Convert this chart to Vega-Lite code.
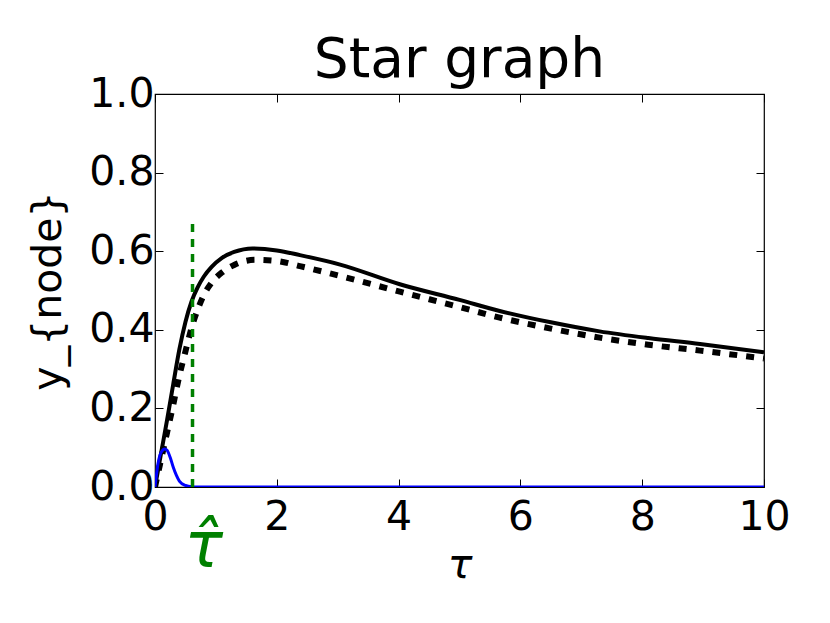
{
  "$schema": "https://vega.github.io/schema/vega-lite/v6.json",
  "width": 609,
  "height": 393,
  "autosize": {"type": "none"},
  "padding": {"left": 155, "top": 94, "right": 66, "bottom": 136},
  "background": "white",
  "config": {
    "view": {"stroke": "black", "strokeWidth": 1.2},
    "font": "DejaVu Sans",
    "axis": {
      "labelFont": "DejaVu Sans",
      "labelFontSize": 41,
      "labelColor": "black",
      "labelFlush": false,
      "domain": false,
      "grid": false,
      "tickColor": "black",
      "tickSize": -8,
      "tickWidth": 1,
      "titleFont": "DejaVu Sans",
      "titleFontWeight": "normal",
      "titleColor": "black"
    }
  },
  "title": {
    "text": "Star graph",
    "font": "DejaVu Sans",
    "fontSize": 55,
    "fontWeight": "normal",
    "color": "black",
    "frame": "group",
    "anchor": "middle",
    "baseline": "bottom",
    "offset": 4,
    "dy": 75
  },
  "datasets": {
    "solid": [
      {"t": 0, "y": 0}, {"t": 0.1, "y": 0.086}, {"t": 0.2, "y": 0.172}, {"t": 0.3, "y": 0.262},
      {"t": 0.4, "y": 0.35}, {"t": 0.5, "y": 0.42}, {"t": 0.6, "y": 0.472}, {"t": 0.7, "y": 0.508},
      {"t": 0.8, "y": 0.535}, {"t": 0.93, "y": 0.56}, {"t": 1.1, "y": 0.583}, {"t": 1.3, "y": 0.598},
      {"t": 1.6, "y": 0.607}, {"t": 2.0, "y": 0.602}, {"t": 2.38, "y": 0.59}, {"t": 3.04, "y": 0.566},
      {"t": 4.02, "y": 0.516}, {"t": 5.0, "y": 0.476}, {"t": 5.66, "y": 0.448}, {"t": 6.5, "y": 0.419},
      {"t": 7.3, "y": 0.396}, {"t": 8.1, "y": 0.379}, {"t": 8.95, "y": 0.364}, {"t": 10, "y": 0.343}
    ],
    "dashed": [
      {"t": 0, "y": 0}, {"t": 0.1, "y": 0.07}, {"t": 0.2, "y": 0.14}, {"t": 0.287, "y": 0.2},
      {"t": 0.4, "y": 0.283}, {"t": 0.5, "y": 0.345}, {"t": 0.6, "y": 0.405}, {"t": 0.71, "y": 0.455},
      {"t": 0.8, "y": 0.488}, {"t": 0.93, "y": 0.52}, {"t": 1.1, "y": 0.546}, {"t": 1.3, "y": 0.565},
      {"t": 1.64, "y": 0.578}, {"t": 2.0, "y": 0.575}, {"t": 2.38, "y": 0.562}, {"t": 3.04, "y": 0.537},
      {"t": 4.02, "y": 0.497}, {"t": 5.0, "y": 0.458}, {"t": 5.66, "y": 0.431}, {"t": 6.5, "y": 0.403},
      {"t": 7.3, "y": 0.38}, {"t": 8.1, "y": 0.362}, {"t": 8.95, "y": 0.347}, {"t": 10, "y": 0.327}
    ],
    "blue": [
      {"t": 0, "y": 0}, {"t": 0.05, "y": 0.06}, {"t": 0.1, "y": 0.088}, {"t": 0.16, "y": 0.097},
      {"t": 0.2, "y": 0.093}, {"t": 0.25, "y": 0.075}, {"t": 0.3, "y": 0.05}, {"t": 0.35, "y": 0.03},
      {"t": 0.4, "y": 0.015}, {"t": 0.5, "y": 0.004}, {"t": 0.6, "y": 0.0005}, {"t": 0.7, "y": 0},
      {"t": 10, "y": 0}
    ],
    "vline": [{"t": 0.616, "y0": 0, "y1": 0.682}],
    "label": [{"t": 0.8, "y": -0.155, "text": "τ̂"}]
  },
  "layer": [
    {
      "data": {"name": "solid"},
      "mark": {"type": "line", "color": "black", "strokeWidth": 4, "clip": true, "interpolate": "monotone"},
      "encoding": {
        "x": {"field": "t", "type": "quantitative", "scale": {"domain": [0, 10], "nice": false, "zero": false},
              "axis": {"orient": "bottom", "values": [0, 2, 4, 6, 8, 10], "title": "τ", "titleFontSize": 41, "titleFontStyle": "italic", "labelPadding": 18, "titlePadding": 8}},
        "y": {"field": "y", "type": "quantitative", "scale": {"domain": [0, 1], "nice": false, "zero": false},
              "axis": {"orient": "left", "values": [0, 0.2, 0.4, 0.6, 0.8, 1.0], "format": ".1f", "title": "y_{node}", "titleFontSize": 41, "labelPadding": 9, "titlePadding": 19}}
      }
    },
    {
      "data": {"name": "dashed"},
      "mark": {"type": "line", "color": "black", "strokeWidth": 6, "strokeDash": [8, 9], "strokeCap": "butt", "clip": true, "interpolate": "monotone"},
      "encoding": {
        "x": {"field": "t", "type": "quantitative", "scale": {"domain": [0, 10], "nice": false, "zero": false},
              "axis": {"orient": "top", "values": [0, 2, 4, 6, 8, 10], "labels": false, "title": null}},
        "y": {"field": "y", "type": "quantitative", "scale": {"domain": [0, 1], "nice": false, "zero": false},
              "axis": {"orient": "right", "values": [0, 0.2, 0.4, 0.6, 0.8, 1.0], "labels": false, "title": null}}
      }
    },
    {
      "data": {"name": "blue"},
      "mark": {"type": "line", "color": "#0000ff", "strokeWidth": 3, "clip": true, "interpolate": "monotone"},
      "encoding": {
        "x": {"field": "t", "type": "quantitative", "scale": {"domain": [0, 10], "nice": false, "zero": false}, "axis": null},
        "y": {"field": "y", "type": "quantitative", "scale": {"domain": [0, 1], "nice": false, "zero": false}, "axis": null}
      }
    },
    {
      "data": {"name": "vline"},
      "mark": {"type": "rule", "color": "#008000", "strokeWidth": 3.5, "strokeDash": [8, 7], "strokeCap": "butt"},
      "encoding": {
        "x": {"field": "t", "type": "quantitative", "scale": {"domain": [0, 10], "nice": false, "zero": false}, "axis": null},
        "y": {"field": "y0", "type": "quantitative", "scale": {"domain": [0, 1], "nice": false, "zero": false}, "axis": null},
        "y2": {"field": "y1"}
      }
    },
    {
      "data": {"name": "label"},
      "mark": {"type": "text", "color": "#008000", "fontSize": 64, "fontStyle": "italic", "font": "DejaVu Sans", "align": "center", "baseline": "middle"},
      "encoding": {
        "x": {"field": "t", "type": "quantitative", "scale": {"domain": [0, 10], "nice": false, "zero": false}, "axis": null},
        "y": {"field": "y", "type": "quantitative", "scale": {"domain": [0, 1], "nice": false, "zero": false}, "axis": null},
        "text": {"field": "text"}
      }
    }
  ],
  "resolve": {"axis": {"x": "independent", "y": "independent"}}
}
